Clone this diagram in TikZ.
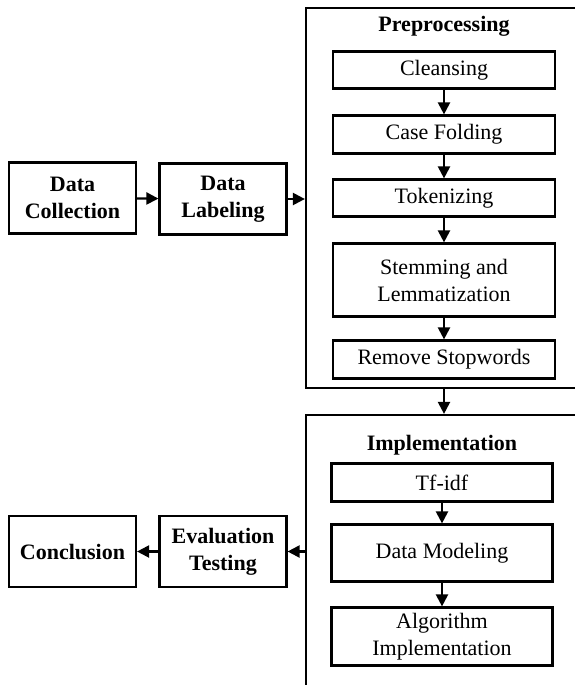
\documentclass[tikz,border=0pt]{standalone}
\usepackage{fontspec}
\setmainfont{Liberation Serif}
\usetikzlibrary{shapes, arrows.meta}

\tikzset{
  box/.style={draw, line width=2.2pt, align=center, inner sep=0pt,
    font=\fontsize{22}{27}\selectfont},
  bigbox/.style={box, minimum width=127pt, minimum height=71pt, font=\fontsize{22}{27}\selectfont\bfseries},
  stepbox/.style={box, minimum width=222pt},
  frame/.style={draw, line width=2.2pt, inner sep=0pt},
  title/.style={font=\fontsize{22}{27}\selectfont\bfseries, inner sep=0pt},
  flow/.style={line width=2.2pt, -{Triangle[length=12pt,width=12pt]}}
}

\begin{document}
\begin{tikzpicture}[x=1pt, y=-1pt]
\useasboundingbox (0,0) rectangle (574,685);
\fill[white] (0,0) rectangle (574,685);

 % left column, top
 \node[bigbox] (collect) at (72.5, 198) {Data\\Collection};
 \node[bigbox] (label) at (223, 199) {Data\\Labeling};

 % preprocessing block
 \node[frame, minimum width=304pt, minimum height=380pt] (prep) at (458, 198) {};
 \node[title] (preptitle) at (444, 26) {Preprocessing};
 \node[stepbox, minimum height=37pt] (clean) at (444, 70) {Cleansing};
 \node[stepbox, minimum height=38pt] (fold) at (444, 134.5) {Case Folding};
 \node[stepbox, minimum height=37pt] (token) at (444, 198) {Tokenizing};
 \node[stepbox, minimum height=73pt] (stem) at (444, 280) {Stemming and\\Lemmatization};
 \node[stepbox, minimum height=38pt] (stop) at (444, 359.5) {Remove Stopwords};

 % implementation block
 \node[frame, minimum width=304pt, minimum height=290pt] (impl) at (458, 560) {};
 \node[title] (impltitle) at (442, 445) {Implementation};
 \node[stepbox, minimum width=221pt, minimum height=38pt] (tfidf) at (442, 482.5) {Tf-idf};
 \node[stepbox, minimum width=221pt, minimum height=57pt] (model) at (442, 553) {Data Modeling};
 \node[stepbox, minimum width=221pt, minimum height=58pt] (algo) at (442, 636.5) {Algorithm\\Implementation};

 % left column, bottom
 \node[bigbox] (eval) at (223, 551.5) {Evaluation\\Testing};
 \node[bigbox] (concl) at (72.5, 551.5) {Conclusion};

 \draw[flow] (collect) -- (label);
 \draw[flow] (label.east) -- (label.east -| prep.west);
 \draw[flow] (clean) -- (fold);
 \draw[flow] (fold) -- (token);
 \draw[flow] (token) -- (stem);
 \draw[flow] (stem) -- (stop);
 \draw[flow] (stop.south |- prep.south) -- (stop.south |- impl.north);
 \draw[flow] (tfidf) -- (model);
 \draw[flow] (model) -- (algo);
 \draw[flow] (eval.east -| impl.west) -- (eval.east);
 \draw[flow] (eval) -- (concl);
\end{tikzpicture}
\end{document}
